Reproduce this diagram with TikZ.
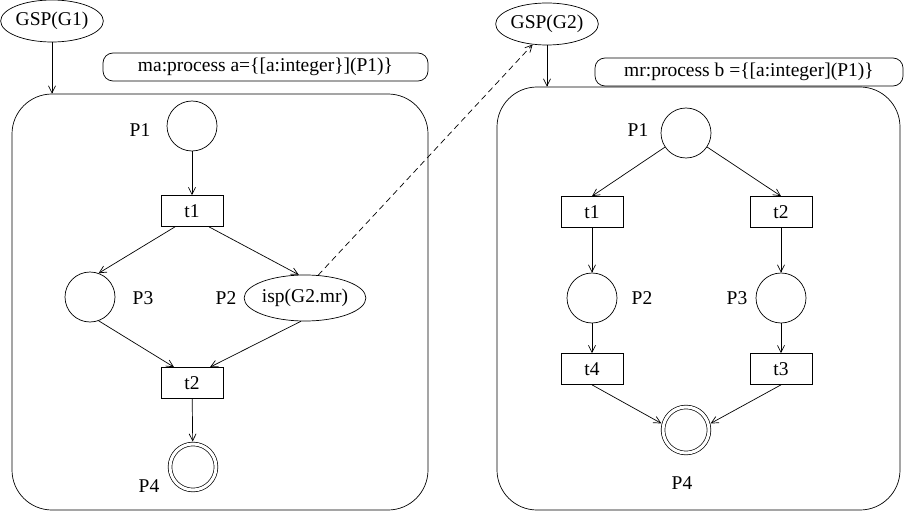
\documentclass[tikz,border=0pt]{standalone}
\usepackage{fontspec}
\setmainfont{Liberation Serif}
\usetikzlibrary{shapes.geometric,arrows.meta}
\tikzset{
    lbl/.style={font=\fontsize{19.5}{22}\selectfont, inner sep=0pt},
    place/.style={draw, circle, minimum size=50pt, inner sep=0pt},
    endplace/.style={draw, circle, double, double distance=3pt, minimum size=46pt, inner sep=0pt, outer sep=2.5pt},
    trans/.style={draw, rectangle, minimum width=62pt, minimum height=31pt, inner sep=0pt, lbl},
    gsp/.style={draw, ellipse, minimum width=82pt, minimum height=42pt, inner sep=0pt, lbl},
    decl/.style={draw, rectangle, rounded corners=10pt, minimum height=28pt, inner sep=0pt, lbl},
    net/.style={draw, rectangle, rounded corners=40pt, inner sep=0pt},
    arc/.style={-{Straight Barb[length=7pt,width=7pt]}},
    link/.style={arc, dash pattern=on 6pt off 4pt},
}
\begin{document}
\begin{tikzpicture}[x=1pt, y=-1pt, line width=0.7pt]
\useasboundingbox (0,0) rectangle (904,513);
\node[net, minimum width=416pt, minimum height=416pt] (net1) at (220,302) {};
\node[net, minimum width=403pt, minimum height=423pt] (net2) at (698.5,298.5) {};
\node[gsp] (gsp1) at (52,21) {GSP(G1)};
\node[gsp] (gsp2) at (547,24) {GSP(G2)};
\node[decl, minimum width=325pt] (ma) at (265.5,67) {ma:process a=\{[a:integer\}](P1)\}};
\node[decl, minimum width=308pt] (mr) at (749,72) {mr:process b =\{[a:integer](P1)\}};

\node[place] (p1a) at (192,126) {};
\node[lbl] (lp1a) at (140,130) {P1};
\node[trans] (t1a) at (192,211) {t1};
\node[place] (p3a) at (90,297) {};
\node[lbl] (lp3a) at (143,298) {P3};
\node[gsp, minimum width=94pt, minimum height=46pt] (isp) at (305,298) {isp(G2.mr)};
\node[lbl] (lp2a) at (226,298) {P2};
\node[trans] (t2a) at (192,383) {t2};
\node[endplace] (p4a) at (193,467) {};
\node[lbl] (lp4a) at (149,486) {P4};

\node[place] (p1b) at (686,133) {};
\node[lbl] (lp1b) at (638,130) {P1};
\node[trans] (t1b) at (592,212) {t1};
\node[trans] (t2b) at (781,212) {t2};
\node[place] (p2b) at (592,298) {};
\node[lbl] (lp2b) at (642,298) {P2};
\node[place] (p3b) at (781,298) {};
\node[lbl] (lp3b) at (737,298) {P3};
\node[trans] (t4b) at (592,369) {t4};
\node[trans] (t3b) at (781,369) {t3};
\node[endplace] (p4b) at (686,430) {};
\node[lbl] (lp4b) at (682,483) {P4};

\draw[arc] (gsp1) -- (gsp1 |- net1.north);
\draw[arc] (gsp2) -- (gsp2 |- net2.north);
\draw[arc] (p1a) -- (t1a);
\draw[arc] ([xshift=-17pt]t1a.south) -- (p3a.70);
\draw[arc] ([xshift=17pt]t1a.south) -- (isp.105);
\draw[arc] (p3a.-70) -- ([xshift=-18pt]t2a.north);
\draw[arc] (isp.-100) -- ([xshift=18pt]t2a.north);
\draw[arc] (t2a) -- (p4a);
\draw[link] (isp.60) -- (gsp2.235);

\draw[arc] (p1b) -- (t1b.north);
\draw[arc] (p1b) -- (t2b.north);
\draw[arc] (t1b) -- (p2b);
\draw[arc] (t2b) -- (p3b);
\draw[arc] (p2b) -- (t4b);
\draw[arc] (p3b) -- (t3b);
\draw[arc] (t4b.south) -- (p4b.165);
\draw[arc] (t3b.south) -- (p4b.15);
\end{tikzpicture}
\end{document}
